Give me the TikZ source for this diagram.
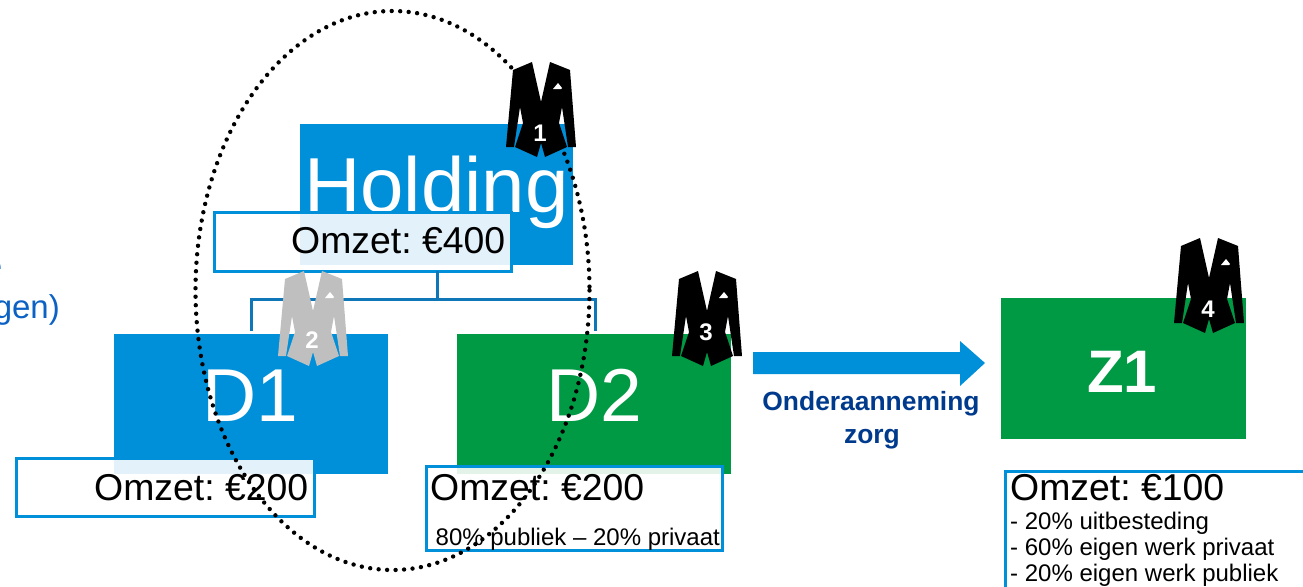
\documentclass[tikz,border=0pt]{standalone}
\usepackage{fontspec}
\setmainfont{Liberation Sans}
\frenchspacing
\definecolor{hblue}{HTML}{0090DA}
\definecolor{hgreen}{HTML}{009A44}
\definecolor{linkblue}{HTML}{0F76B8}
\definecolor{navy}{HTML}{003A8C}
\definecolor{sideblue}{HTML}{0B62C4}
\definecolor{suitgrey}{HTML}{BFBFBF}
\newcommand{\fs}[1]{\fontsize{#1}{#1}\selectfont}
\tikzset{
  x=1pt,y=-1pt,
  block/.style={rectangle,inner sep=0pt,outer sep=0pt,minimum width=#1},
  infobox/.style={rectangle,draw=hblue,line width=3pt,fill=white,fill opacity=.89,draw opacity=1,text opacity=1,inner sep=0pt,outer sep=0pt},
  big/.style={text=white,inner sep=0pt,font=\fs{78}},
  omzet/.style={text=black,inner sep=0pt,anchor=base west,font=\fs{37.4}},
  small/.style={text=black,inner sep=0pt,anchor=base west,font=\fs{24}},
  num/.style={text=white,inner sep=0pt,font=\bfseries\fs{24}},
  suit/.pic={
    \fill[pic actions] (-9,-48) -- (-28,-40) -- (-35,37) -- (-27,37) -- (-21,-3) -- (-18,13) -- (-26,37) -- (-4,47) -- (0,33) -- (4,47) -- (26,37) -- (18,13) -- (21,-3) -- (27,37) -- (35,37) -- (29,-40) -- (9,-48) -- (0,-8) -- cycle;
    \fill[white] (12,-21) -- (17,-27) -- (21,-22) -- (20,-21) -- cycle;
  }
}
\begin{document}
\begin{tikzpicture}
\useasboundingbox (0,0) rectangle (1303,586);
\clip (0,0) rectangle (1303,586);
% side text, cut off by the page edge
\node[inner sep=0pt,anchor=base east,text=sideblue,font=\fs{33}] (sidea) at (2.5,277) {e};
\node[inner sep=0pt,anchor=base east,text=sideblue,font=\fs{33}] (sideb) at (60,318) {gen)};
% blocks
\node[block=273pt,minimum height=141pt,fill=hblue] (holding) at (436.5,194.5) {};
\node[block=274pt,minimum height=140pt,fill=hblue] (d1) at (251,404) {};
\node[block=274pt,minimum height=140pt,fill=hgreen] (d2) at (594,404) {};
\node[block=245pt,minimum height=141pt,fill=hgreen] (z1) at (1123.5,368.5) {};
\node[big,anchor=base] (holdingt) at (436.5,212) {Holding};
\node[big,anchor=base,font=\fs{75}] (d1t) at (250,421) {D1};
\node[big,anchor=base,font=\fs{75}] (d2t) at (594,421) {D2};
\node[anchor=base,text=white,inner sep=0pt,font=\bfseries\fs{60}] (z1t) at (1122,392) {Z1};
% connectors
\coordinate (bus) at (437,299);
\coordinate (c1) at (251,331);
\coordinate (c2) at (595,331);
\node[infobox,minimum width=297pt,minimum height=59pt] (hbox) at (363,241.5) {};
\draw[linkblue,line width=3pt] (hbox.south -| bus) -- (bus);
\draw[linkblue,line width=3pt] (c1) |- (bus) -| (c2);
% info boxes
\node[infobox,minimum width=298pt,minimum height=58pt] (d1box) at (165.5,487) {};
\node[infobox,minimum width=296pt,minimum height=84pt] (d2box) at (574.5,508) {};
\node[infobox,minimum width=320pt,minimum height=130pt] (z1box) at (1165,536) {};
\node[omzet] (t400) at (291,253) {Omzet: €400};
\node[omzet] (t200a) at (94,500) {Omzet: €200};
\node[omzet] (t200b) at (430,500) {Omzet: €200};
\node[small] (split) at (435.5,545) {80\% publiek – 20\% privaat};
\node[omzet] (t100) at (1010,500) {Omzet: €100};
\node[small] (l1) at (1010,529) {- 20\% uitbesteding};
\node[small] (l2) at (1010,555) {- 60\% eigen werk privaat};
\node[small] (l3) at (1010,581) {- 20\% eigen werk publiek};
% arrow
\fill[hblue] (753,352) -- (960,352) -- (960,341) -- (985,363) -- (960,386) -- (960,374) -- (753,374) -- cycle;
\node[anchor=base,inner sep=0pt,text=navy,font=\bfseries\fs{26.4}] (ond) at (871,410) {Onderaanneming};
\node[anchor=base,inner sep=0pt,text=navy,font=\bfseries\fs{26.4}] (zorg) at (872,443) {zorg};
% suits
\pic[black] at (541,110) {suit};
\pic[suitgrey] at (313,319) {suit};
\pic[black] at (707,319) {suit};
\pic[black] at (1209,286) {suit};
\node[num] (n1) at (540,133) {1};
\node[num] (n2) at (312,340) {2};
\node[num] (n3) at (706,332) {3};
\node[num] (n4) at (1208,309) {4};
% dotted ellipse
\draw[black,line width=4.4pt,line cap=round,dash pattern=on 0pt off 8.5pt] (392.5,290.5) ellipse [x radius=197,y radius=279.5];
\end{tikzpicture}
\end{document}
